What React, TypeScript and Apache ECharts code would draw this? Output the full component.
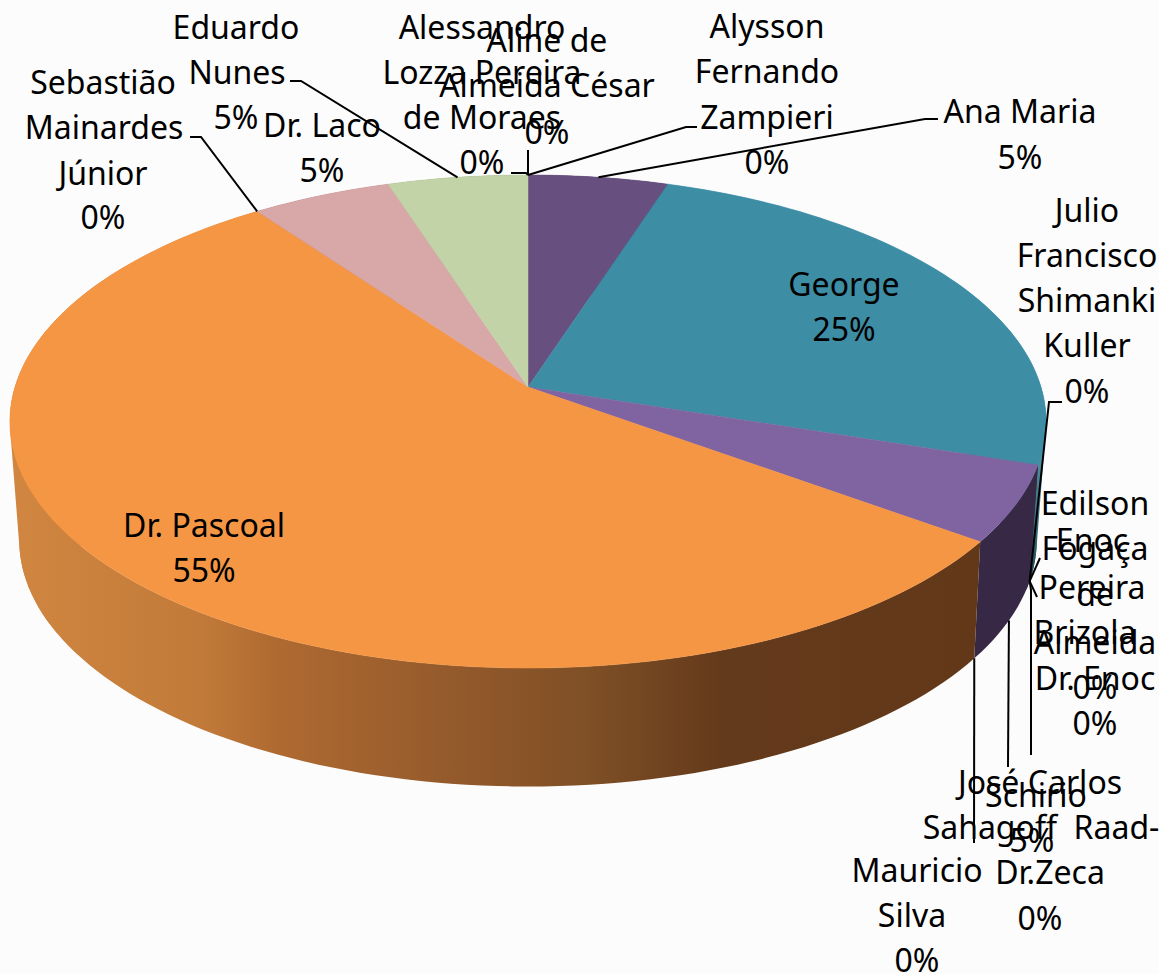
import React, { useEffect, useRef } from "react";
import * as echarts from "echarts";

const names = [
  "Aline de Almeida César", "Alysson Fernando Zampieri", "Ana Maria", "George",
  "Julio Francisco Shimanki Kuller", "Edilson Fogaça de Almeida", "Enoc Pereira Brizola", "Dr. Enoc",
  "José Carlos Sahagoff Raad-Schirio", "Dr.Zeca", "Mauricio Silva", "Dr. Pascoal",
  "Sebastião Mainardes Júnior", "Dr. Laco", "Eduardo Nunes", "Alessandro Lozza Pereira de Moraes",
];
const values = [0, 0, 5, 25, 0, 0, 0, 0, 5, 0, 0, 55, 0, 5, 5, 0];

const topColors: Record<string, string> = {
  "Ana Maria": "#67507F", George: "#3D8DA5", "José Carlos Sahagoff Raad-Schirio": "#8064A2",
  "Dr. Pascoal": "#F59645", "Dr. Laco": "#D8A7A7", "Eduardo Nunes": "#C3D3A8",
};

// label lines: [text, centre x, centre y]
type Line = [string, number, number];
const labelLines: Record<string, Line[]> = {
  "Alessandro Lozza Pereira de Moraes": [["Alessandro", 482, 27], ["Lozza Pereira", 482, 72], ["de Moraes", 482, 117], ["0%", 482, 162]],
  "Aline de Almeida César": [["Aline de", 547, 40], ["Almeida César", 547, 85], ["0%", 547, 132]],
  "Alysson Fernando Zampieri": [["Alysson", 767, 26], ["Fernando", 767, 71], ["Zampieri", 767, 117], ["0%", 767, 162]],
  "Ana Maria": [["Ana Maria", 1020, 111], ["5%", 1020, 157]],
  George: [["George", 844, 284], ["25%", 844, 329]],
  "Julio Francisco Shimanki Kuller": [["Julio", 1087, 210], ["Francisco", 1087, 255], ["Shimanki", 1087, 300], ["Kuller", 1087, 345], ["0%", 1087, 391]],
  "Edilson Fogaça de Almeida": [["Edilson", 1095, 503], ["Fogaça", 1095, 548], ["de", 1095, 594], ["Almeida", 1095, 642], ["0%", 1095, 687]],
  "Enoc Pereira Brizola": [["Enoc", 1092, 540], ["Pereira", 1092, 587], ["Brizola", 1085, 632]],
  "Dr. Enoc": [["Dr. Enoc", 1095, 678], ["0%", 1095, 723]],
  "José Carlos Sahagoff Raad-Schirio": [["José Carlos", 1040, 782], ["Sahagoff  Raad-", 1041, 827], ["Schirio", 1036, 795], ["5%", 1032, 840]],
  "Dr.Zeca": [["Dr.Zeca", 1050, 872], ["0%", 1040, 918]],
  "Mauricio Silva": [["Mauricio", 917, 870], ["Silva", 912, 915], ["0%", 917, 960]],
  "Dr. Pascoal": [["Dr. Pascoal", 204, 525], ["55%", 204, 570]],
  "Sebastião Mainardes Júnior": [["Sebastião", 103, 82], ["Mainardes", 104, 127], ["Júnior", 103, 173], ["0%", 103, 217]],
  "Dr. Laco": [["Dr. Laco", 322, 125], ["5%", 322, 170]],
  "Eduardo Nunes": [["Eduardo", 236, 27], ["Nunes", 237, 72], ["5%", 236, 117]],
};

// leader lines: fixed points near the label, then the slice's rim ("top" or "bottom")
const leaders: Record<string, { pts: number[][]; rim: "top" | "bottom" }> = {
  "Alessandro Lozza Pereira de Moraes": { pts: [[511, 173], [526, 173]], rim: "top" },
  "Aline de Almeida César": { pts: [[528, 150]], rim: "top" },
  "Alysson Fernando Zampieri": { pts: [[697, 127], [686, 127]], rim: "top" },
  "Ana Maria": { pts: [[938, 119], [925, 119]], rim: "top" },
  "Eduardo Nunes": { pts: [[290, 81], [301, 81]], rim: "top" },
  "Sebastião Mainardes Júnior": { pts: [[190, 137], [201, 137]], rim: "top" },
  "Julio Francisco Shimanki Kuller": { pts: [[1062, 402], [1049, 402]], rim: "bottom" },
  "Edilson Fogaça de Almeida": { pts: [[1040, 558]], rim: "bottom" },
  "Enoc Pereira Brizola": { pts: [[1037, 597]], rim: "bottom" },
  "Dr. Enoc": { pts: [[1031, 755], [1031, 590]], rim: "bottom" },
  "José Carlos Sahagoff Raad-Schirio": { pts: [[1008, 767]], rim: "bottom" },
  "Mauricio Silva": { pts: [[974, 843]], rim: "bottom" },
};

const APEX_X = 528;
const APEX_Y = 387;
const TEXT_DY = -1;
// angle ranges where the wall's outline folds over at the pie's left and right sides
const foldZones = [[60, 110], [240, 300]];

const proj = (deg: number, rim: "top" | "bottom") => {
  const a = (deg * Math.PI) / 180;
  const u = Math.sin(a);
  const v = Math.cos(a);
  if (rim === "top") {
    const w = 1 + 0.14 * v;
    return [APEX_X + (513 * u) / w, APEX_Y - (241.7 * v) / w];
  }
  const w = 1 + 0.15 * v;
  return [APEX_X + (503 * u) / w, 503 - (241 * v) / w];
};

const total = values.reduce((s, v) => s + v, 0);
const startDeg: number[] = [];
values.reduce((acc, v, i) => {
  startDeg[i] = (acc / total) * 360;
  return acc + v;
}, 0);
const sweep = (i: number) => (values[i] / total) * 360;

const arcBetween = (from: number, to: number, rim: "top" | "bottom") => {
  const n = Math.max(2, Math.ceil((to - from) / 1.5));
  const pts: number[][] = [];
  for (let k = 0; k <= n; k++) pts.push(proj(from + ((to - from) * k) / n, rim));
  return pts;
};
const arcPoints = (i: number, rim: "top" | "bottom") => arcBetween(startDeg[i], startDeg[i] + sweep(i), rim);

const convexHull = (input: number[][]) => {
  const pts = [...input].sort((a, b) => a[0] - b[0] || a[1] - b[1]);
  const cross = (o: number[], a: number[], b: number[]) =>
    (a[0] - o[0]) * (b[1] - o[1]) - (a[1] - o[1]) * (b[0] - o[0]);
  const half = (list: number[][]) => {
    const out: number[][] = [];
    for (const p of list) {
      while (out.length >= 2 && cross(out[out.length - 2], out[out.length - 1], p) <= 0) out.pop();
      out.push(p);
    }
    out.pop();
    return out;
  };
  return [...half(pts), ...half([...pts].reverse())];
};

const wallFill = (name: string): any => {
  if (name === "Dr. Pascoal")
    return new echarts.graphic.LinearGradient(8, 0, 1000, 0, [
      { offset: 0.012, color: "#D08640" },
      { offset: 0.194, color: "#C17A39" },
      { offset: 0.27, color: "#AF6A31" },
      { offset: 0.435, color: "#965B2C" },
      { offset: 0.597, color: "#7D4E25" },
      { offset: 0.718, color: "#643A1C" },
      { offset: 1, color: "#623819" },
    ], true);
  if (name === "George")
    return new echarts.graphic.LinearGradient(0, 390, 0, 580, [
      { offset: 0, color: "#6FB8CC" },
      { offset: 1, color: "#1F4A58" },
    ], true);
  if (name === "José Carlos Sahagoff Raad-Schirio") return "#372945";
  if (name === "Ana Maria") return "#372945";
  if (name === "Dr. Laco") return "#8A6B6B";
  return "#7C8A68";
};

const labelTexts: any[] = names.flatMap((name) =>
  (labelLines[name] || []).map(([text, x, y]) => ({
    type: "text",
    z: 100,
    x,
    y: y + TEXT_DY,
    style: {
      text,
      fill: "#000000",
      fontFamily: "'Noto Sans', sans-serif",
      fontSize: 32,
      align: "center",
      verticalAlign: "middle",
    },
  }))
);

const leaderLines: any[] = names.flatMap((name, i) => {
  const l = leaders[name];
  if (!l) return [];
  const end = proj(startDeg[i] + sweep(i) / 2, l.rim);
  return [{
    type: "polyline",
    z: 50,
    shape: { points: [...l.pts, end] },
    style: { stroke: "#000000", lineWidth: 2, fill: "none" },
  }];
});

const seriesData = names.map((name, i) => ({ name, value: values[i] }));

export default function App() {
  const ref = useRef<HTMLDivElement>(null);
  useEffect(() => {
    document.body.style.margin = "0";
    const chart = echarts.init(ref.current!, null, { renderer: "svg" });
    chart.setOption({
      animation: false,
      backgroundColor: "#FCFCFC",
      series: [
        {
          type: "custom",
          coordinateSystem: "none",
          z: 1,
          silent: true,
          data: seriesData,
          renderItem: (params: any) => {
            const i = params.dataIndex;
            if (values[i] === 0) return null;
            const fill = wallFill(names[i]);
            const children: any[] = [{
              type: "polygon",
              shape: { points: [...arcPoints(i, "top"), ...arcPoints(i, "bottom").reverse()] },
              style: { fill },
            }];
            const from = startDeg[i];
            const to = from + sweep(i);
            foldZones.forEach(([a, b]) => {
              const lo = Math.max(a, from);
              const hi = Math.min(b, to);
              if (hi > lo) {
                children.push({
                  type: "polygon",
                  shape: { points: convexHull([...arcBetween(lo, hi, "top"), ...arcBetween(lo, hi, "bottom")]) },
                  style: { fill },
                });
              }
            });
            return { type: "group", children };
          },
        },
        {
          type: "custom",
          coordinateSystem: "none",
          z: 2,
          silent: true,
          data: seriesData,
          renderItem: (params: any) => {
            const i = params.dataIndex;
            if (values[i] === 0) return null;
            const color = topColors[names[i]];
            return {
              type: "polygon",
              shape: { points: [[APEX_X, APEX_Y], ...arcPoints(i, "top")] },
              style: { fill: color, stroke: color, lineWidth: 0.5 },
            };
          },
        },
      ],
      graphic: { elements: [...leaderLines, ...labelTexts] },
    });
    return () => chart.dispose();
  }, []);
  return <div ref={ref} style={{ width: 1159, height: 974 }} />;
}
